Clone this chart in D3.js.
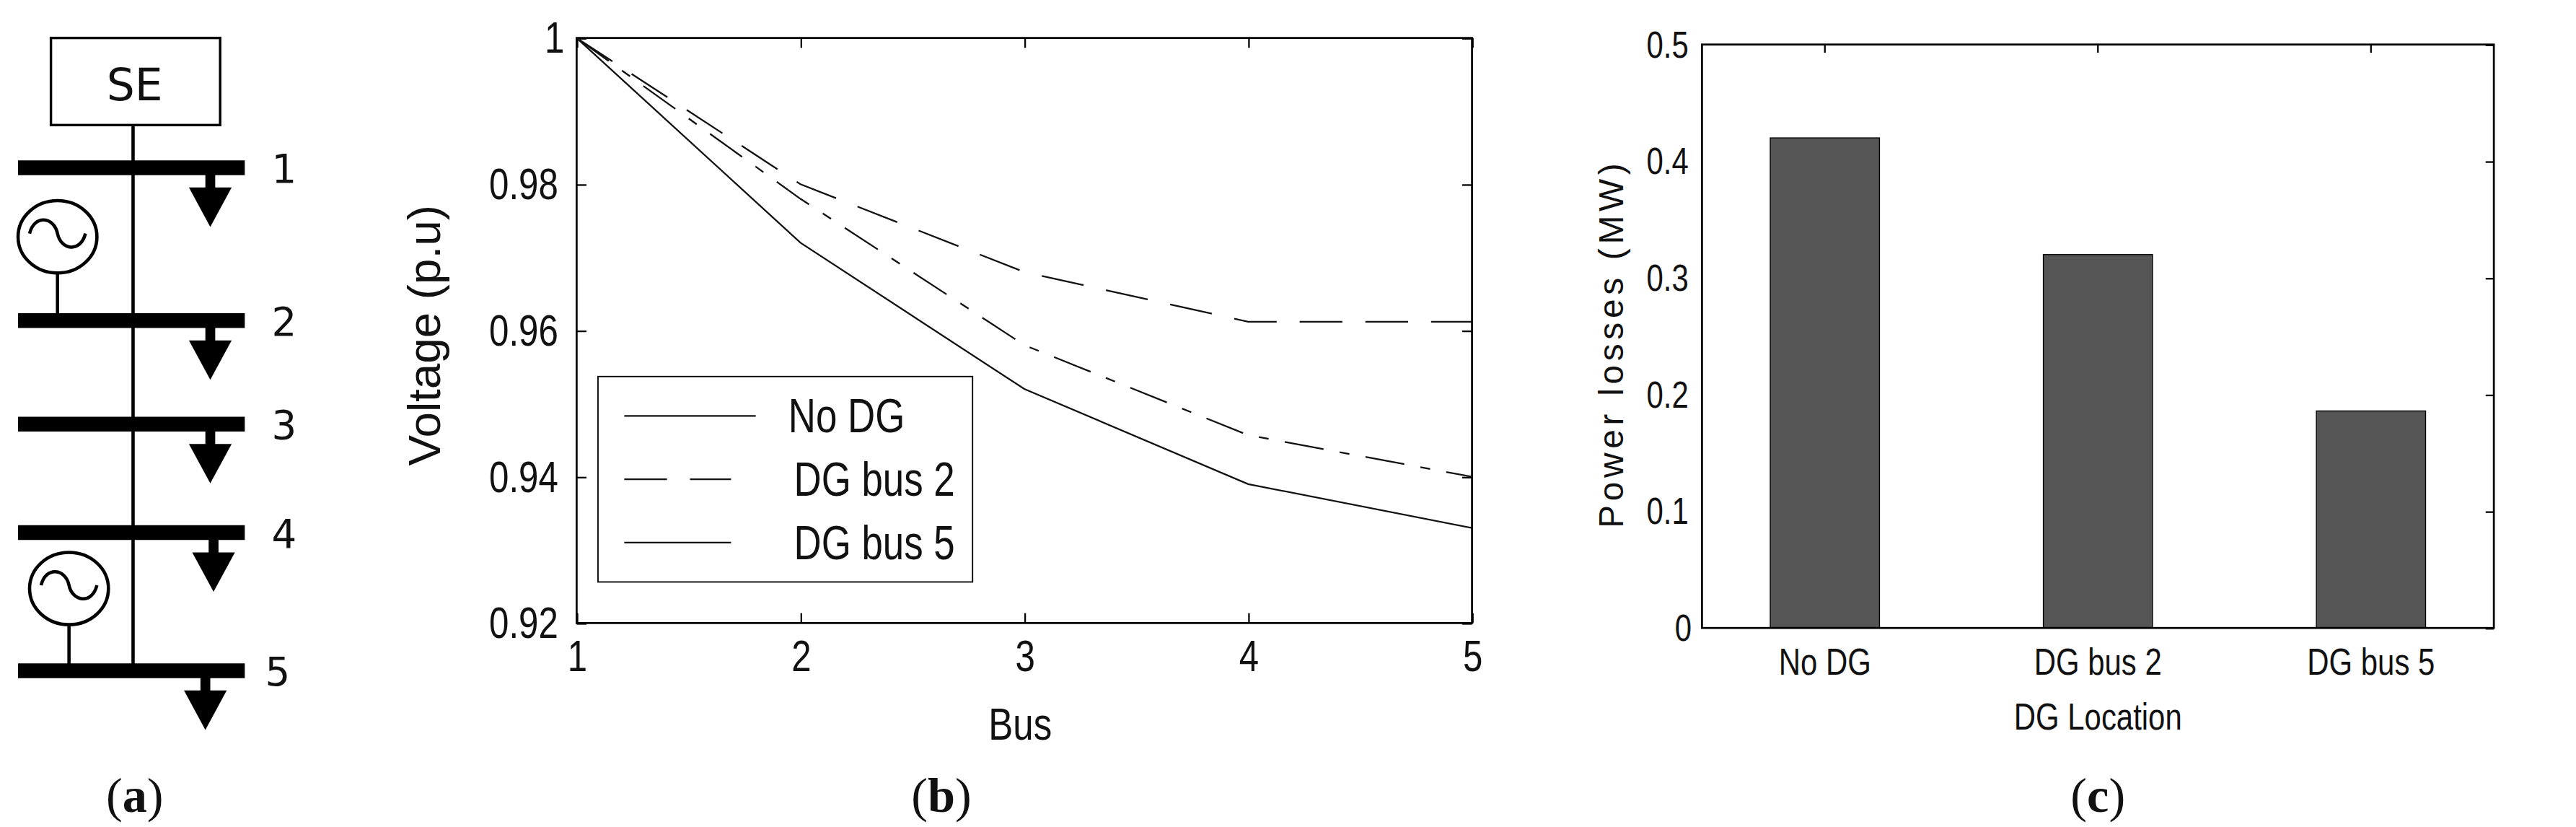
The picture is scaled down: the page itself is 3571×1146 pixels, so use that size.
<!DOCTYPE html>
<html><head><meta charset="utf-8">
<script src="https://cdn.jsdelivr.net/npm/d3@7"></script>
<style>
html,body{margin:0;padding:0;background:#fff;}
svg{display:block;}
text{fill:#111;}
</style></head>
<body>
<svg id="fig" width="3571" height="1146" viewBox="0 0 1568 503"></svg>
<script>
// ---------- data ----------
const buses = [1, 2, 3, 4, 5];
const busY = [102, 195, 258, 324, 408];           // diagram rows (a)
const voltNoDG  = [1, 0.972, 0.952, 0.939, 0.933];
const voltDG2   = [1, 0.980, 0.968, 0.9612, 0.9612];
const voltDG5   = [1, 0.978, 0.958, 0.9457, 0.940];
const seriesNames = ['No DG', 'DG bus 2', 'DG bus 5'];
const voltTicks = [0.92, 0.94, 0.96, 0.98, 1];
const lossCats = ['No DG', 'DG bus 2', 'DG bus 5'];
const lossVals = [0.42, 0.32, 0.186];
const lossTicks = [0, 0.1, 0.2, 0.3, 0.4, 0.5];

const svg = d3.select('#fig');
const narrow = "'Liberation Sans Narrow','Liberation Sans',Arial,sans-serif";

// condensed look: squeeze text horizontally around its anchor
function squeeze(sel, k) {
  sel.each(function () {
    const bb = this.getBBox();
    const cx = bb.x + bb.width / 2, cy = bb.y + bb.height / 2;
    const prev = this.getAttribute('transform') || '';
    this.setAttribute('transform', `${prev} translate(${cx},${cy}) scale(${k},1) translate(${-cx},${-cy})`);
  });
}

// ---------- (a) single line diagram ----------
const a = svg.append('g');
a.append('rect').attr('x', 31).attr('y', 23).attr('width', 103).attr('height', 53)
  .attr('fill', 'none').attr('stroke', '#000').attr('stroke-width', 1.5);
a.append('text').attr('x', 82).attr('y', 61).attr('text-anchor', 'middle')
  .attr('font-family', 'DejaVu Sans, sans-serif').attr('font-size', 27).text('SE');
a.append('line').attr('x1', 81).attr('x2', 81).attr('y1', 76).attr('y2', busY[4])
  .attr('stroke', '#000').attr('stroke-width', 2);
busY.forEach((y, i) => {
  a.append('line').attr('x1', 11).attr('x2', 149).attr('y1', y).attr('y2', y)
    .attr('stroke', '#000').attr('stroke-width', 9);
  const ax = i === 3 ? 130 : (i === 4 ? 125 : 128);
  a.append('line').attr('x1', ax).attr('x2', ax).attr('y1', y).attr('y2', y + 16)
    .attr('stroke', '#000').attr('stroke-width', 6);
  a.append('path').attr('d', `M${ax - 13},${y + 12} L${ax + 13},${y + 12} L${ax},${y + 36} Z`).attr('fill', '#000');
  a.append('text').attr('x', i === 4 ? 169 : 173).attr('y', y + 9).attr('text-anchor', 'middle')
    .attr('font-family', 'DejaVu Sans, sans-serif').attr('font-size', 24).text(buses[i]);
});
function gen(cx, cy, yBus) {
  a.append('ellipse').attr('cx', cx).attr('cy', cy).attr('rx', 24).attr('ry', 22)
    .attr('fill', 'none').attr('stroke', '#000').attr('stroke-width', 2);
  a.append('path').attr('d', `M${cx - 17},${cy - 2} C${cx - 14},${cy - 14} ${cx - 2},${cy - 12} ${cx},${cy - 2} C${cx + 2},${cy + 8} ${cx + 14},${cy + 10} ${cx + 17},${cy - 2}`)
    .attr('fill', 'none').attr('stroke', '#000').attr('stroke-width', 2);
  a.append('line').attr('x1', cx).attr('x2', cx).attr('y1', cy + 22).attr('y2', yBus)
    .attr('stroke', '#000').attr('stroke-width', 2);
}
gen(35, 144, busY[1]);
gen(42, 358, busY[4]);

// panel captions
[['a', 82], ['b', 573], ['c', 1277]].forEach(([l, x]) => {
  const t = svg.append('text').attr('x', x).attr('y', 494).attr('text-anchor', 'middle')
    .attr('font-family', "'Liberation Serif','DejaVu Serif',serif").attr('font-size', 30);
  t.append('tspan').text('(');
  t.append('tspan').attr('font-weight', 'bold').text(l);
  t.append('tspan').text(')');
});

// ---------- (b) voltage profile ----------
const bx = d3.scaleLinear().domain([1, 5]).range([351, 896]);
const by = d3.scaleLinear().domain([0.92, 1]).range([379, 23]);
const b = svg.append('g');
function frame(g, x0, x1, y0, y1) {
  g.append('rect').attr('x', x0).attr('y', y1).attr('width', x1 - x0).attr('height', y0 - y1)
    .attr('fill', 'none').attr('stroke', '#000').attr('stroke-width', 1.2);
}
frame(b, 351, 896, 379, 23);
b.append('g').attr('transform', 'translate(0,379)')
  .call(d3.axisBottom(bx).tickValues(buses).tickSize(-6).tickPadding(10).tickFormat(d3.format('d')));
b.append('g').attr('transform', 'translate(0,23)')
  .call(d3.axisTop(bx).tickValues(buses).tickSize(-6).tickFormat(''));
b.append('g').attr('transform', 'translate(351,0)')
  .call(d3.axisLeft(by).tickValues(voltTicks).tickSize(-6).tickPadding(6).tickFormat(d => d === 1 ? '1' : d3.format('.2f')(d)));
b.append('g').attr('transform', 'translate(896,0)')
  .call(d3.axisRight(by).tickValues(voltTicks).tickSize(-6).tickFormat(''));
b.selectAll('.domain').remove();
b.selectAll('.tick line').attr('stroke', '#000');
b.selectAll('.tick text').attr('font-family', narrow).attr('font-size', 27).attr('fill', '#111')
  .call(squeeze, 0.8);

const line = d3.line().x((d, i) => bx(buses[i])).y(d => by(d));
const styles = [null, '26,14', '24,10,6,10'];
[voltNoDG, voltDG2, voltDG5].forEach((s, k) => {
  b.append('path').attr('d', line(s)).attr('fill', 'none').attr('stroke', '#111')
    .attr('stroke-width', 1).attr('stroke-dasharray', styles[k]);
});
b.append('text').attr('transform', 'translate(268,204) rotate(-90)').attr('text-anchor', 'middle')
  .attr('font-family', narrow).attr('font-size', 28).text('Voltage (p.u)');
b.append('text').attr('x', 621).attr('y', 450).attr('text-anchor', 'middle')
  .attr('font-family', narrow).attr('font-size', 28).text('Bus').call(squeeze, 0.8);
// legend
b.append('rect').attr('x', 364).attr('y', 229).attr('width', 228).attr('height', 125)
  .attr('fill', '#fff').attr('stroke', '#000').attr('stroke-width', 0.8);
seriesNames.forEach((n, k) => {
  const y = 253 + k * 38.5;
  b.append('line').attr('x1', 380).attr('x2', k === 0 ? 460 : 445).attr('y1', y).attr('y2', y)
    .attr('stroke', '#111').attr('stroke-width', 1).attr('stroke-dasharray', k === 1 ? '26,14' : null);
  b.append('text').attr('x', 471).attr('y', y + 10).attr('font-family', narrow).attr('font-size', 29).text(n)
    .call(squeeze, 0.8);
});

// ---------- (c) power losses ----------
const cx = d3.scaleBand().domain(lossCats).range([1036, 1518]).paddingInner(0.6).paddingOuter(0.25);
const cy = d3.scaleLinear().domain([0, 0.5]).range([382, 27]);
const c = svg.append('g');
c.selectAll('rect.bar').data(lossVals).join('rect').attr('class', 'bar')
  .attr('x', (d, i) => cx(lossCats[i])).attr('width', cx.bandwidth())
  .attr('y', d => cy(d)).attr('height', d => cy(0) - cy(d))
  .attr('fill', '#555').attr('stroke', '#000').attr('stroke-width', 0.6);
frame(c, 1036, 1518, 382, 27);
c.append('g').attr('transform', 'translate(0,382)')
  .call(d3.axisBottom(cx).tickSize(0).tickPadding(12));
c.append('g').attr('transform', 'translate(0,27)')
  .call(d3.axisTop(cx).tickSize(-5).tickFormat(''));
c.append('g').attr('transform', 'translate(1036,0)')
  .call(d3.axisLeft(cy).tickValues(lossTicks).tickSize(0).tickPadding(5).tickFormat(d => d === 0 ? '0' : d3.format('.1f')(d)));
c.append('g').attr('transform', 'translate(1518,0)')
  .call(d3.axisRight(cy).tickValues(lossTicks).tickSize(-5).tickFormat(''));
c.selectAll('.domain').remove();
c.selectAll('.tick line').attr('stroke', '#000');
c.selectAll('.tick text').attr('font-family', narrow).attr('font-size', 23).attr('fill', '#111')
  .call(squeeze, 0.8);
c.append('text').attr('transform', 'translate(988,209) rotate(-90)').attr('text-anchor', 'middle')
  .attr('font-family', narrow).attr('font-size', 21).attr('letter-spacing', 2.5).text('Power losses  (MW)');
c.append('text').attr('x', 1277).attr('y', 444).attr('text-anchor', 'middle')
  .attr('font-family', narrow).attr('font-size', 23).text('DG Location').call(squeeze, 0.8);
</script>
</body></html>
